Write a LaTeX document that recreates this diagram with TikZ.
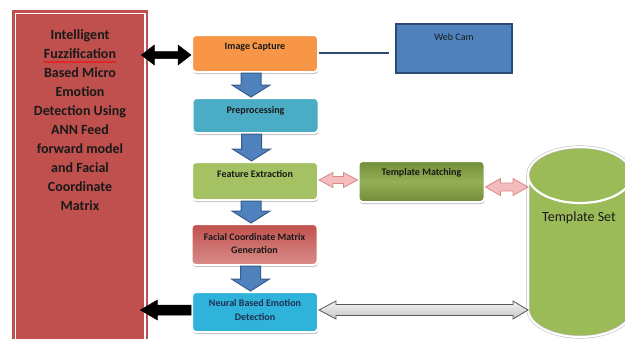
\documentclass[tikz,border=0pt]{standalone}
\usepackage{fontspec}
\setmainfont{Carlito}
\usetikzlibrary{calc,shadows,decorations.pathmorphing}
\definecolor{rbred}{HTML}{C0504D}
\definecolor{icor}{HTML}{F79646}
\definecolor{ppbl}{HTML}{4BACC6}
\definecolor{fegr}{HTML}{A4C263}
\definecolor{fcmtop}{HTML}{C0504D}
\definecolor{fcmbot}{HTML}{D98C89}
\definecolor{nbcy}{HTML}{2FB3DB}
\definecolor{tmdark}{HTML}{718D38}
\definecolor{tmlight}{HTML}{94AF55}
\definecolor{wcfill}{HTML}{4F81BD}
\definecolor{wcdraw}{HTML}{2C4A74}
\definecolor{blkfill}{HTML}{4F81BD}
\definecolor{blkdraw}{HTML}{385D8A}
\definecolor{pinkfill}{HTML}{F4BCBC}
\definecolor{pinkdraw}{HTML}{D98A88}
\definecolor{tsgreen}{HTML}{9BBB59}
\definecolor{navytxt}{HTML}{1F3050}
\newcommand\hdbl[7]{%
 \path[#1] let \p1=(#2), \p2=(#3) in
 (\x1,\y1) -- (\x1+#6pt,\y1+#5pt) -- (\x1+#6pt,\y1+#4pt) -- (\x2-#7pt,\y1+#4pt) -- (\x2-#7pt,\y1+#5pt) -- (\x2,\y1)
 -- (\x2-#7pt,\y1-#5pt) -- (\x2-#7pt,\y1-#4pt) -- (\x1+#6pt,\y1-#4pt) -- (\x1+#6pt,\y1-#5pt) -- cycle;}
\newcommand\hsgl[6]{%
 \path[#1] let \p1=(#2), \p2=(#3) in
 (\x1,\y1) -- (\x1+#6pt,\y1+#5pt) -- (\x1+#6pt,\y1+#4pt) -- (\x2,\y1+#4pt) -- (\x2,\y1-#4pt) -- (\x1+#6pt,\y1-#4pt) -- (\x1+#6pt,\y1-#5pt) -- cycle;}
\newcommand\vblk[2]{%
 \path[blkarrow] let \p1=($(#1.south)+(-4,0)$), \p2=(#2.north) in
 (\x1-10pt,\y1) -- (\x1-10pt,\y2+12pt) -- (\x1-19pt,\y2+12pt) -- (\x1,\y2) -- (\x1+19pt,\y2+12pt) -- (\x1+10pt,\y2+12pt) -- (\x1+10pt,\y1) -- cycle;}
\begin{document}
\begin{tikzpicture}[x=1pt,y=-1pt,
  box/.style={rectangle, rounded corners=4pt, draw=white, line width=2pt, inner sep=0pt,
    minimum width=126pt, drop shadow={shadow xshift=0.5pt, shadow yshift=-2pt, opacity=0.35, fill=black!70}},
  boxtxt/.style={font=\bfseries\fontsize{10}{12.8}\selectfont, align=center, inner sep=0pt, text=black!90},
  blkarrow/.style={fill=blkfill, draw=blkdraw, line width=1pt, line join=miter},
  pinkarrow/.style={fill=pinkfill, draw=pinkdraw, line width=0.8pt},
  grayarrow/.style={top color=gray!10, bottom color=gray!45, draw=black!65, line width=0.8pt},
  blackarrow/.style={fill=black, draw=black, line width=0.5pt}]
\useasboundingbox (0,0) rectangle (625,338);

% left red panel
\node[fill=rbred, rectangle, inner sep=0pt, anchor=north west, minimum width=136pt, minimum height=345pt] (rb) at (12,10) {};
\draw[white, line width=1.3pt] ($(rb.north west)+(3.5,3.5)$) rectangle ($(rb.south east)+(-3.5,-3.5)$);
\node[anchor=north, align=center, inner sep=0pt, font=\bfseries\fontsize{14}{19}\selectfont, text=black!90] (title) at (80,29.5)
 {Intelligent\\Fuzzification\\Based Micro\\Emotion\\Detection Using\\ANN Feed\\forward model\\and Facial\\Coordinate\\Matrix};
\draw[red, line width=0.5pt, decorate, decoration={snake, amplitude=0.7pt, segment length=2.6pt}] (44,62) -- (116,62);

% process boxes
\node[box, fill=icor, minimum height=37pt] (ic) at (255,53.5) {};
\node[boxtxt] (ict) at (255,47.3) {Image Capture};
\node[box, fill=ppbl, minimum height=35pt] (pp) at (255.5,115.5) {};
\node[boxtxt] (ppt) at (255.5,110.7) {Preprocessing};
\node[box, fill=fegr, minimum height=38pt] (fe) at (255,181) {};
\node[boxtxt] (fet) at (255,174.3) {Feature Extraction};
\node[box, top color=fcmtop, bottom color=fcmbot, minimum height=41pt] (fcm) at (254.5,244.5) {};
\node[boxtxt] (fcmt) at (254.5,243.7) {Facial Coordinate Matrix\\Generation};
\node[box, fill=nbcy, minimum height=40pt] (nb) at (255,312) {};
\node[boxtxt, text=navytxt, font=\bfseries\fontsize{10}{13.4}\selectfont] (nbt) at (255,310) {Neural Based Emotion\\Detection};
\node[box, top color=tmdark, bottom color=tmdark, middle color=tmlight, minimum height=41pt] (tm) at (421.5,181.5) {};
\node[boxtxt] (tmt) at (421.5,172.7) {Template Matching};

% web cam
\node[rectangle, fill=wcfill, draw=wcdraw, line width=2pt, minimum width=116pt, minimum height=49pt, inner sep=0pt] (wc) at (454,48.5) {};
\node[font=\fontsize{10}{12}\selectfont, inner sep=0pt, text=black!90] (wct) at (454,36.7) {Web Cam};
\draw[wcdraw, line width=1.4pt] (ic.east |- 0,53) -- ($(wc.west |- 0,53)+(-6,0)$);

% template set cylinder
\path[fill=tsgreen] (528,175) -- (528,309) arc[start angle=180, end angle=360, x radius=52pt, y radius=28pt]
  -- (632,175) arc[start angle=0, end angle=180, x radius=52pt, y radius=28pt] -- cycle;
\draw[black!25, line width=3.2pt] (528,175) -- (528,309) arc[start angle=180, end angle=360, x radius=52pt, y radius=28pt]
  -- (632,175) arc[start angle=0, end angle=180, x radius=52pt, y radius=28pt] -- cycle;
\draw[white, line width=2pt] (528,175) -- (528,309) arc[start angle=180, end angle=360, x radius=52pt, y radius=28pt]
  -- (632,175) arc[start angle=0, end angle=180, x radius=52pt, y radius=28pt] -- cycle;
\draw[white, line width=2.2pt] (528,175) arc[start angle=180, end angle=360, x radius=52pt, y radius=28pt];
\node[font=\fontsize{14}{16}\selectfont, inner sep=0pt, text=black!90] (ts) at (579,218) {Template Set};
\coordinate (tsa) at (528,187);
\coordinate (tsb) at (528,310);

% vertical block arrows
\vblk{ic}{pp}
\vblk{pp}{fe}
\vblk{fe}{fcm}
\vblk{fcm}{nb}

% horizontal arrows
\hdbl{blackarrow}{$(rb.east |- 0,55)+(-7,0)$}{ic.west |- 0,55}{3.5}{10}{13}{13}
\hsgl{blackarrow}{$(rb.east |- 0,310)+(-8,0)$}{nb.west |- 0,310}{5}{10}{17}
\hdbl{pinkarrow}{fe.east |- 0,180}{tm.west |- 0,180}{3.5}{7.5}{14}{14}
\hdbl{pinkarrow}{tm.east |- tsa}{tsa}{4}{8.5}{15}{15}
\hdbl{grayarrow}{nb.east |- tsb}{tsb}{5.5}{9}{17}{15}
\end{tikzpicture}
\end{document}
